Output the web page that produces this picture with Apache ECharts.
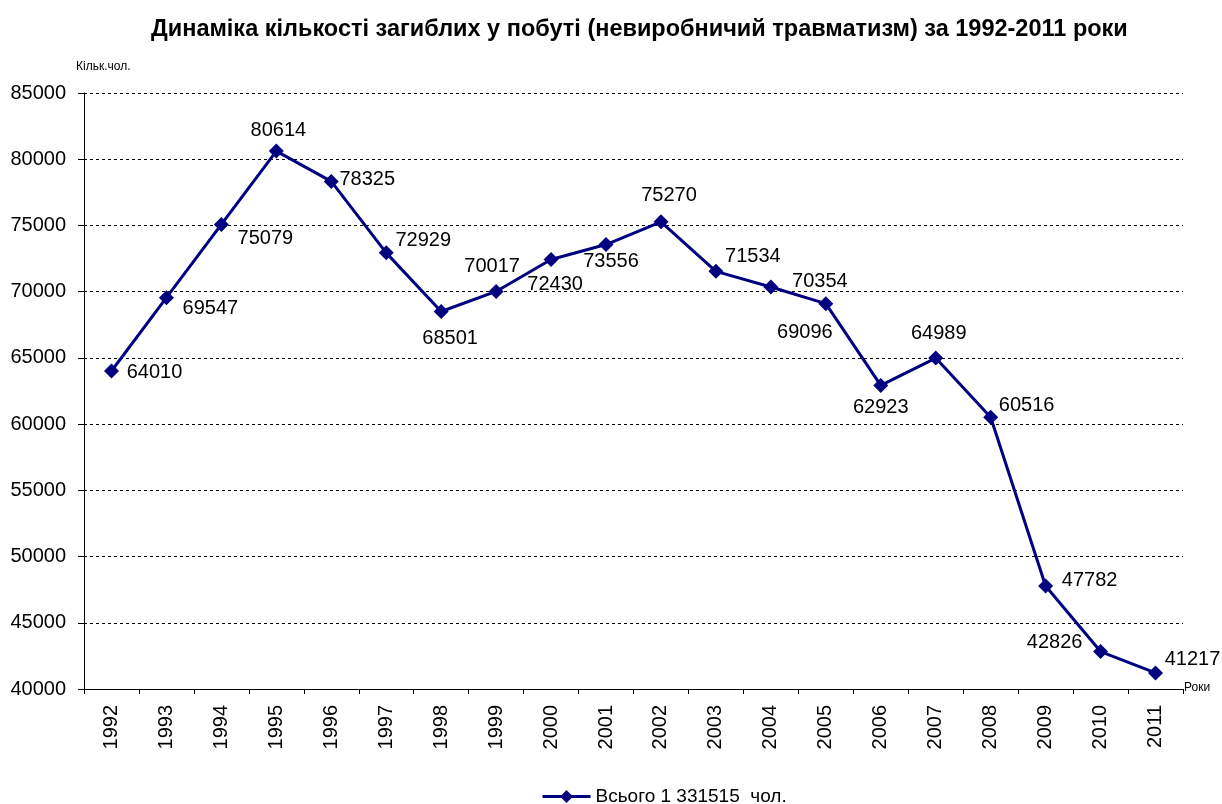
<!DOCTYPE html>
<html><head><meta charset="utf-8">
<script src="https://cdn.jsdelivr.net/npm/echarts@6/dist/echarts.min.js"></script>
<style>html,body{margin:0;padding:0;background:#fff}#c{width:1222px;height:804px}</style>
</head><body><div id="c"></div>
<script>
const years = ['1992','1993','1994','1995','1996','1997','1998','1999','2000','2001','2002','2003','2004','2005','2006','2007','2008','2009','2010','2011'];
const deaths = [64010,69547,75079,80614,78325,72929,68501,70017,72430,73556,75270,71534,70354,69096,62923,64989,60516,47782,42826,41217];
const yTicks = {min:40000, max:85000, interval:5000};
const titleText = 'Динаміка кількості загиблих у побуті (невиробничий травматизм) за 1992-2011 роки';
const seriesName = 'Всього 1 331515  чол.';
// label placement (layout only)
const labelOffsets = [[43,1],[44,11],[44,14],[2,-21],[36,-2],[37,-12],[9,27],[-4,-25],[4,25],[5,17],[8,-26],[37,-15],[49,-5],[-21,29],[0,22],[3,-25],[36,-12],[44,-5],[-46,-9],[37,-13]];

const FF = '"Liberation Sans", Arial, sans-serif';
const chart = echarts.init(document.getElementById('c'), null, {renderer:'canvas'});
chart.setOption({
  animation:false,
  backgroundColor:'#fff',
  title:{text:titleText, left:146, top:13, textStyle:{fontFamily:FF, fontSize:23.5, fontWeight:'bold', color:'#000'}},
  graphic:[
    {type:'text', left:76, top:61, style:{text:'Кільк.чол.', font:'12px '+FF, fill:'#000'}},
    {type:'text', left:1184, top:682, style:{text:'Роки', font:'12px '+FF, fill:'#000'}}
  ],
  legend:{top:782, left:536, itemWidth:48, itemHeight:16, itemGap:4,
    lineStyle:{width:3},
    textStyle:{fontFamily:FF, fontSize:19, color:'#000'}, data:[seriesName]},
  grid:{left:84, right:39, top:93, bottom:115},
  xAxis:{type:'category', data:years, boundaryGap:true,
    axisLine:{lineStyle:{color:'#000', width:1}},
    axisTick:{show:true, length:5, lineStyle:{color:'#000'}},
    axisLabel:{rotate:90, margin:16, fontFamily:FF, fontSize:20, color:'#000'}},
  yAxis:{type:'value', min:yTicks.min, max:yTicks.max, interval:yTicks.interval,
    axisLine:{show:true, lineStyle:{color:'#000', width:1}},
    axisTick:{show:true, length:6, lineStyle:{color:'#000'}},
    axisLabel:{margin:18, fontFamily:FF, fontSize:20, color:'#000', formatter:v=>String(v)},
    splitLine:{show:true, lineStyle:{color:'#000', type:[3,3], width:1}}},
  series:[{
    name:seriesName, type:'line',
    data: deaths.map((v,i)=>({value:v, label:{offset:labelOffsets[i]}})),
    symbol:'diamond', symbolSize:15, showAllSymbol:true,
    lineStyle:{color:'#000080', width:3},
    itemStyle:{color:'#000080'},
    label:{show:true, position:'inside', align:'center', verticalAlign:'middle',
      fontFamily:FF, fontSize:20, color:'#000'}
  }]
});
</script></body></html>
